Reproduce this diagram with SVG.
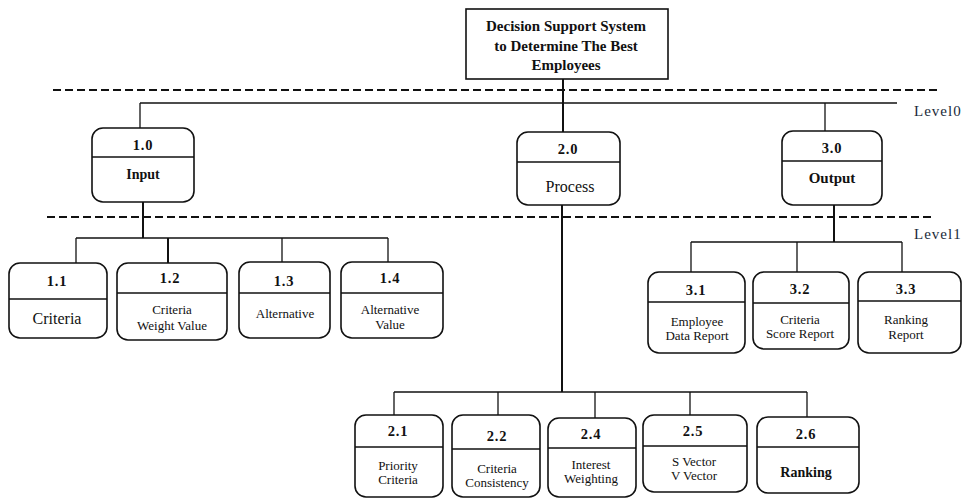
<svg xmlns="http://www.w3.org/2000/svg" width="962" height="498" viewBox="0 0 962 498" font-family="'Liberation Serif', 'Times New Roman', 'DejaVu Serif', serif">
<style>
text{font-family:'Liberation Serif','Times New Roman','DejaVu Serif',serif;fill:#111;text-anchor:middle}
.num{font-size:14.5px;font-weight:bold;letter-spacing:0.8px}
.lbl{font-size:13px}
.big{font-size:16px}
.b{font-weight:bold}
.box{fill:#fff;stroke:#111;stroke-width:1.6}
.div{stroke:#111;stroke-width:1.3}
.ln{stroke:#111;stroke-width:1.3;fill:none}
.thick{stroke:#111;stroke-width:2;fill:none}
.dash{stroke:#111;stroke-width:2.2;stroke-dasharray:8,4;fill:none}
.lev{font-size:15px;text-anchor:start;fill:#1a2a3a;letter-spacing:1px}
</style>
<rect width="962" height="498" fill="#fff"/>

<g id="levels">
<line class="dash" x1="53" y1="90" x2="938" y2="90"/>
<line class="dash" x1="47" y1="217" x2="932" y2="217"/>
<text class="lev" x="914" y="116">Level0</text>
<text class="lev" x="914" y="239">Level1</text>
</g>

<g id="connectors">
<line class="thick" x1="563" y1="79" x2="563" y2="132"/>
<line class="ln" x1="140" y1="103" x2="897" y2="103"/>
<line class="ln" x1="140" y1="103" x2="140" y2="128"/>
<line class="ln" x1="825" y1="103" x2="825" y2="131"/>
<line class="thick" x1="143" y1="202" x2="143" y2="238"/>
<line class="ln" x1="76" y1="238" x2="388" y2="238"/>
<line class="ln" x1="76" y1="238" x2="76" y2="263"/>
<line class="thick" x1="168" y1="238" x2="168" y2="263"/>
<line class="ln" x1="282" y1="238" x2="282" y2="262"/>
<line class="ln" x1="388" y1="238" x2="388" y2="262"/>
<line class="thick" x1="834" y1="205" x2="834" y2="242"/>
<line class="ln" x1="691" y1="242" x2="902" y2="242"/>
<line class="ln" x1="691" y1="242" x2="691" y2="272"/>
<line class="ln" x1="797" y1="242" x2="797" y2="272"/>
<line class="ln" x1="902" y1="242" x2="902" y2="272"/>
<line class="thick" x1="562" y1="205" x2="562" y2="392"/>
<line class="ln" x1="394" y1="392" x2="807" y2="392"/>
<line class="ln" x1="394" y1="392" x2="394" y2="415"/>
<line class="ln" x1="498" y1="392" x2="498" y2="415"/>
<line class="ln" x1="595" y1="392" x2="595" y2="418"/>
<line class="ln" x1="690" y1="392" x2="690" y2="415"/>
<line class="ln" x1="807" y1="392" x2="807" y2="417"/>
</g>

<g id="root">
<rect x="466" y="9" width="202" height="70" fill="#fff" stroke="#111" stroke-width="1.6"/>
<text class="b" x="566" y="31" font-size="15">Decision Support System</text>
<text class="b" x="566" y="51" font-size="15">to Determine The Best</text>
<text class="b" x="566" y="70" font-size="15">Employees</text>
</g>

<g id="n1_0">
<rect class="box" x="92" y="128" width="102" height="74" rx="11"/>
<line class="div" x1="92" y1="157" x2="194" y2="157"/>
<text class="num" x="143" y="150">1.0</text>
<text class="b" x="143" y="179" font-size="14">Input</text>
</g>
<g id="n2_0">
<rect class="box" x="517" y="132" width="103" height="73" rx="11"/>
<line class="div" x1="517" y1="162" x2="620" y2="162"/>
<text class="num" x="568" y="154">2.0</text>
<text class="big" x="570" y="192">Process</text>
</g>
<g id="n3_0">
<rect class="box" x="782" y="131" width="100" height="74" rx="11"/>
<line class="div" x1="782" y1="161" x2="882" y2="161"/>
<text class="num" x="832" y="153">3.0</text>
<text class="b" x="832" y="183" font-size="15">Output</text>
</g>

<g id="n1_1">
<rect class="box" x="9" y="263" width="98" height="75" rx="11"/>
<line class="div" x1="9" y1="299" x2="107" y2="299" stroke-width="1.8"/>
<text class="num" x="57" y="286">1.1</text>
<text class="big" x="57" y="324">Criteria</text>
</g>
<g id="n1_2">
<rect class="box" x="117" y="263" width="110" height="77" rx="11"/>
<line class="div" x1="117" y1="293" x2="227" y2="293"/>
<text class="num" x="170" y="283">1.2</text>
<text class="lbl" x="172" y="314">Criteria</text>
<text class="lbl" x="172" y="330">Weight Value</text>
</g>
<g id="n1_3">
<rect class="box" x="239" y="262" width="91" height="76" rx="11"/>
<line class="div" x1="239" y1="293" x2="330" y2="293"/>
<text class="num" x="284" y="286">1.3</text>
<text class="lbl" x="285" y="318">Alternative</text>
</g>
<g id="n1_4">
<rect class="box" x="341" y="262" width="102" height="76" rx="11"/>
<line class="div" x1="341" y1="293" x2="443" y2="293"/>
<text class="num" x="390" y="283">1.4</text>
<text class="lbl" x="390" y="314">Alternative</text>
<text class="lbl" x="390" y="329">Value</text>
</g>

<g id="n3_1">
<rect class="box" x="648" y="272" width="97" height="81" rx="11"/>
<line class="div" x1="648" y1="302" x2="745" y2="302"/>
<text class="num" x="696" y="295">3.1</text>
<text class="lbl" x="697" y="326">Employee</text>
<text class="lbl" x="697" y="340">Data Report</text>
</g>
<g id="n3_2">
<rect class="box" x="753" y="272" width="96" height="77" rx="11"/>
<line class="div" x1="753" y1="303" x2="849" y2="303"/>
<text class="num" x="800" y="294">3.2</text>
<text class="lbl" x="800" y="324">Criteria</text>
<text class="lbl" x="800" y="338">Score Report</text>
</g>
<g id="n3_3">
<rect class="box" x="858" y="272" width="103" height="81" rx="11"/>
<line class="div" x1="858" y1="301" x2="961" y2="301"/>
<text class="num" x="906" y="294">3.3</text>
<text class="lbl" x="906" y="324">Ranking</text>
<text class="lbl" x="906" y="339">Report</text>
</g>

<g id="n2_1">
<rect class="box" x="355" y="415" width="88" height="82" rx="11"/>
<line class="div" x1="355" y1="447" x2="443" y2="447"/>
<text class="num" x="398" y="436">2.1</text>
<text class="lbl" x="398" y="470">Priority</text>
<text class="lbl" x="398" y="484">Criteria</text>
</g>
<g id="n2_2">
<rect class="box" x="452" y="415" width="88" height="82" rx="11"/>
<line class="div" x1="452" y1="449" x2="540" y2="449"/>
<text class="num" x="497" y="441">2.2</text>
<text class="lbl" x="497" y="473">Criteria</text>
<text class="lbl" x="497" y="487">Consistency</text>
</g>
<g id="n2_4">
<rect class="box" x="548" y="418" width="88" height="79" rx="11"/>
<line class="div" x1="548" y1="448" x2="636" y2="448"/>
<text class="num" x="591" y="439">2.4</text>
<text class="lbl" x="591" y="469">Interest</text>
<text class="lbl" x="591" y="483">Weighting</text>
</g>
<g id="n2_5">
<rect class="box" x="643" y="415" width="104" height="77" rx="11"/>
<line class="div" x1="643" y1="446" x2="747" y2="446" stroke-width="1.8"/>
<text class="num" x="693" y="436">2.5</text>
<text class="lbl" x="694" y="466">S Vector</text>
<text class="lbl" x="694" y="480">V Vector</text>
</g>
<g id="n2_6">
<rect class="box" x="757" y="417" width="102" height="76" rx="11"/>
<line class="div" x1="757" y1="447" x2="859" y2="447"/>
<text class="num" x="806" y="439">2.6</text>
<text class="b" x="806" y="477" font-size="14">Ranking</text>
</g>
</svg>
